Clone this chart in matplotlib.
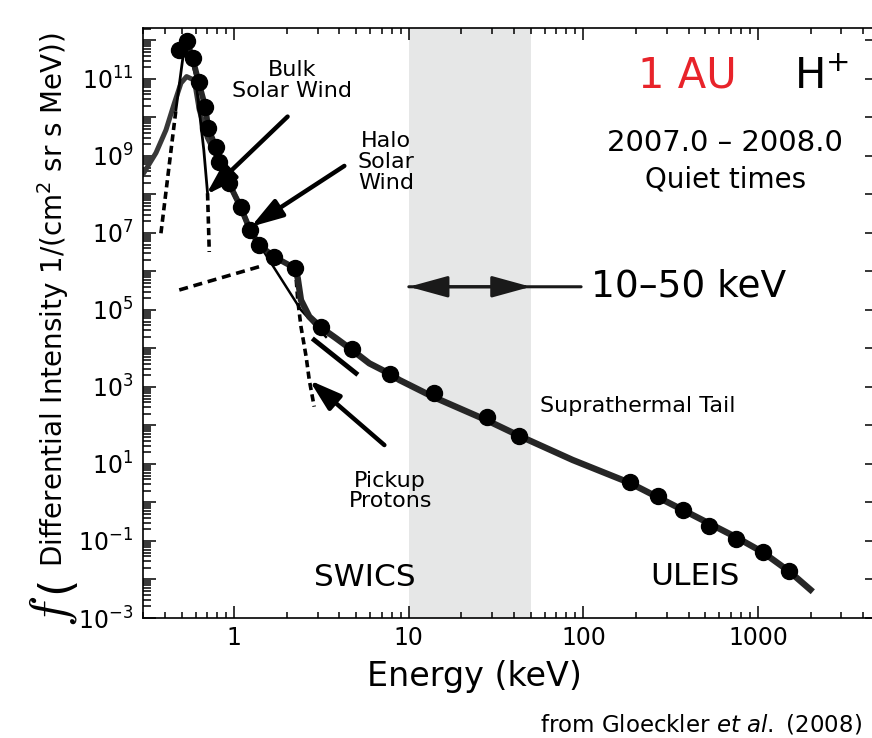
import numpy as np
import matplotlib.pyplot as plt
from matplotlib.ticker import LogLocator, FuncFormatter, NullLocator, NullFormatter

# H+ spectrum at 1 AU, 2007.0-2008.0 quiet times (SWICS + ULEIS)
obs_E = [0.484, 0.533, 0.577, 0.624, 0.682, 0.71, 0.783, 0.82, 0.93, 1.09, 1.23, 1.39, 1.69, 2.24,
         3.15, 4.73, 7.8, 14.0, 27.9, 43, 185, 267, 374, 527, 750, 1066, 1500]
obs_f = [5.6e11, 9.8e11, 3.5e11, 8.5e10, 1.9e10, 5.2e9, 1.7e9, 7.1e8, 2.0e8, 4.6e7, 1.2e7, 4.9e6, 2.4e6, 1.2e6,
         3.6e4, 9.5e3, 2.2e3, 680, 170, 53, 3.5, 1.5, 0.62, 0.24, 0.11, 0.052, 0.017]

# total fit from the pickup cutoff through the suprathermal tail
fit_E = [2.24, 2.31, 2.41, 2.69, 3.18, 3.83, 4.73, 5.94, 7.8, 8.82, 13.7, 27.7, 44, 86.8, 183, 371, 750, 1066, 1517, 2061]
fit_f = [1.2e6, 6.6e5, 1.8e5, 6.7e4, 3.35e4, 1.84e4, 9.1e3, 4.1e3, 2.18e3, 1.52e3, 560, 139, 51, 12.7, 3.27, 0.64, 0.125, 0.051, 0.016, 0.0048]

# halo (kappa) component
halo_E = [0.298, 0.356, 0.406, 0.453, 0.495, 0.533, 0.59, 0.63, 0.70, 0.82, 0.93, 1.09, 1.23, 2.41, 2.94, 3.35]
halo_f = [3.2e8, 1.2e9, 4.7e9, 2.3e10, 7.8e10, 1.15e11, 9.3e10, 1.55e10, 3.0e9, 7.1e8, 2.0e8, 4.6e7, 1.2e7, 1.0e5, 3.7e4, 2.0e4]

# bulk solar wind (Maxwellian)
bulk_E = [0.38, 0.463, 0.484, 0.51, 0.533, 0.598, 0.63, 0.669, 0.703, 0.719]
bulk_f = [9.8e6, 1.55e10, 6.9e10, 4.2e11, 9.8e11, 1.26e11, 1.55e10, 1.43e9, 1.07e8, 3.2e6]

# pickup protons: low-energy part and cutoff
pu_low_E = [0.484, 1.39]
pu_low_f = [3.3e5, 1.33e6]
pu_cut_E = [2.24, 2.31, 2.41, 2.58, 2.69, 2.87]
pu_cut_f = [1.2e6, 1.8e5, 3.7e4, 6.1e3, 1.5e3, 308]

# start of the suprathermal tail
st_E = [2.87, 4.98]
st_f = [1.66e4, 2.27e3]

band = (10, 50)


def decade_label(v, pos):
    e = int(round(np.log10(v)))
    return r'$10^{%d}$' % e if e % 2 else ''


fig = plt.figure(figsize=(8.72, 7.38), dpi=100)
ax = fig.add_axes([143/872, 1-618/738, 729/872, 590/738])
ax.set_xscale('log')
ax.set_yscale('log')
ax.set_xlim(0.3, 4500)
ax.set_ylim(1e-3, 2.1e12)

ax.axvspan(band[0], band[1], color='#e6e7e7', lw=0, zorder=0)

dk = '#262626'
ax.plot(halo_E[:13], halo_f[:13], color='#383838', lw=3.6, solid_capstyle='round', zorder=2)
ax.plot(halo_E[12:], halo_f[12:], color='k', lw=1.8, zorder=2)
ax.plot(bulk_E[:2], bulk_f[:2], color='k', lw=2.6, dashes=(2, 1.2), zorder=2)
ax.plot(bulk_E[1:9], bulk_f[1:9], color='k', lw=2.0, zorder=2)
ax.plot(bulk_E[8:], bulk_f[8:], color='k', lw=2.6, dashes=(2, 1.2), zorder=2)
ax.plot(pu_low_E, pu_low_f, color='k', lw=2.6, dashes=(2.5, 1.6), zorder=2)
ax.plot(pu_cut_E, pu_cut_f, color='k', lw=2.6, dashes=(2, 1.2), zorder=2)
ax.plot(st_E, st_f, color='k', lw=3.5, zorder=2)
ax.plot(obs_E[:14], obs_f[:14], color=dk, lw=4.2, zorder=3)
ax.plot(fit_E, fit_f, color=dk, lw=4.6, solid_capstyle='butt', zorder=3)
ax.plot(obs_E, obs_f, 'o', color='k', ms=11.5, zorder=4)

# ticks
ax.xaxis.set_major_locator(LogLocator(base=10, numticks=20))
ax.xaxis.set_minor_locator(LogLocator(base=10, subs=np.arange(2, 10), numticks=20))
ax.xaxis.set_major_formatter(FuncFormatter(lambda v, p: '%g' % v))
ax.xaxis.set_minor_formatter(NullFormatter())
ax.yaxis.set_major_locator(LogLocator(base=10, numticks=40))
ax.yaxis.set_minor_locator(LogLocator(base=10, subs=np.arange(2, 10), numticks=40))
ax.yaxis.set_major_formatter(FuncFormatter(decade_label))
ax.yaxis.set_minor_formatter(NullFormatter())
ax.tick_params(which='both', direction='in', top=True, right=False, width=1.1, labelsize=17)
ax.tick_params(axis='x', which='major', length=8.5, pad=6)
ax.tick_params(axis='x', which='minor', length=4.5)
ax.tick_params(axis='y', which='major', length=9, pad=7)
ax.tick_params(axis='y', which='minor', length=5.5)
for s in ax.spines.values():
    s.set_linewidth(1.2)
ax.spines['right'].set_visible(False)

sec = ax.secondary_yaxis('right')
sec.yaxis.set_major_locator(LogLocator(base=10, numticks=40))
sec.yaxis.set_minor_locator(NullLocator())
sec.tick_params(direction='in', length=5, width=1.1, labelright=False)
sec.spines['right'].set_visible(False)

ax.set_xlabel('Energy (keV)', fontsize=24)
ax.xaxis.set_label_coords((474-143)/729, -0.072)

# y label: big italic f, big paren, then the rest
fig.text(66/872, 1-627/738, r'$f$', fontsize=38, math_fontfamily='cm',
         rotation=90, rotation_mode='anchor', ha='left', va='baseline')
fig.text(68/872, 1-593/738, '(', fontsize=32,
         rotation=90, rotation_mode='anchor', ha='left', va='baseline')
fig.text(63/872, 1-567/738, r'Differential Intensity 1/(cm$^2$ sr s MeV))', fontsize=20,
         rotation=90, rotation_mode='anchor', ha='left', va='baseline')

# annotations
ax.text(2.15, 9.3e10, 'Bulk\nSolar Wind', fontsize=16, ha='center', va='center', linespacing=1.05)
ax.text(7.4, 6.9e8, 'Halo\nSolar\nWind', fontsize=16, ha='center', va='center', linespacing=1.05)
ax.text(7.83, 2.0, 'Pickup\nProtons', fontsize=16, ha='center', va='center', linespacing=1.0)
ax.text(56.7, 321, 'Suprathermal Tail', fontsize=16, ha='left', va='center')
ax.text(5.63, 0.0116, 'SWICS', fontsize=22.5, ha='center', va='center')
ax.text(433, 0.012, 'ULEIS', fontsize=22.5, ha='center', va='center')
ax.text(394, 1.2e11, '1 AU', fontsize=30, color='#e8232a', ha='center', va='center')
ax.text(1618, 1.2e11, r'H$^{+}$', fontsize=30, ha='left', va='center')
ax.text(651, 2.2e9, '2007.0 – 2008.0', fontsize=21, ha='center', va='center')
ax.text(651, 2.4e8, 'Quiet times', fontsize=20, ha='center', va='center')
ax.text(110, 4.0e5, '10–50 keV', fontsize=27, ha='left', va='center')

arw = dict(arrowstyle='-|>,head_length=1.6,head_width=0.5', mutation_scale=12, lw=3.2, color='k',
           shrinkA=0, shrinkB=0)
ax.annotate('', xy=(0.689, 9.8e7), xytext=(2.02, 1.05e10), arrowprops=arw)
ax.annotate('', xy=(1.246, 1.45e7), xytext=(4.27, 5.5e8), arrowprops=arw)
ax.annotate('', xy=(2.69, 1.5e3), xytext=(7.24, 31), arrowprops=arw)

band_arw = dict(arrowstyle='-|>,head_length=2.0,head_width=0.55', mutation_scale=12, lw=2.2, color='#1a1a1a',
                shrinkA=0, shrinkB=0)
ax.annotate('', xy=(band[0], 4.0e5), xytext=(97, 4.0e5), arrowprops=band_arw)
ax.annotate('', xy=(band[1], 4.0e5), xytext=(band[0], 4.0e5), arrowprops=band_arw)

fig.text(862/872, 1-725/738, r'from Gloeckler $\it{et\ al.}$ (2008)', fontsize=16.5, ha='right', va='center')

fig.savefig('out.png', dpi=100)
